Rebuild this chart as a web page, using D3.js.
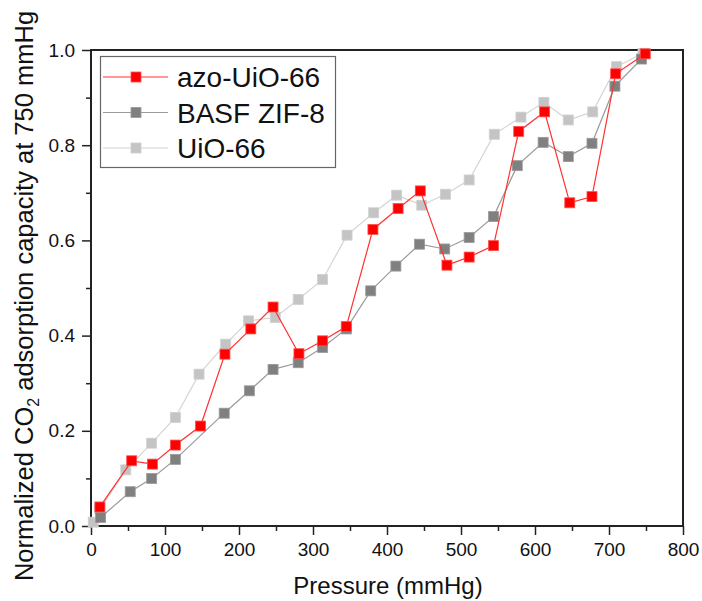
<!DOCTYPE html>
<html>
<head>
<meta charset="utf-8">
<script src="https://cdn.jsdelivr.net/npm/d3@7"></script>
<style>
  body { margin: 0; background: #fff; }
  svg text { font-family: Arial, "Liberation Sans", sans-serif; fill: #111; }
</style>
</head>
<body>
<div id="chart"></div>
<script>
//Series data (pressure in mmHg, normalized uptake)
const seriesNames = ["azo-UiO-66", "BASF ZIF-8", "UiO-66"];

const azoX = [12, 55, 83, 114, 148, 181, 216, 246, 281, 313, 345, 381, 415, 445, 481, 511, 544, 578, 613, 647, 677, 709, 749];
const azoY = [0.040, 0.137, 0.130, 0.170, 0.210, 0.361, 0.414, 0.460, 0.362, 0.389, 0.419, 0.623, 0.667, 0.704, 0.548, 0.565, 0.589, 0.829, 0.870, 0.679, 0.692, 0.950, 0.992];

const zifX = [13, 53, 82, 114, 180, 214, 246, 280, 313, 345, 378, 412, 444, 478, 511, 544, 576, 611, 645, 677, 708, 744];
const zifY = [0.018, 0.072, 0.100, 0.140, 0.237, 0.284, 0.329, 0.343, 0.375, 0.414, 0.494, 0.546, 0.592, 0.582, 0.606, 0.650, 0.757, 0.806, 0.776, 0.804, 0.924, 0.981];

const uioX = [3, 12, 47, 82, 114, 146, 182, 213, 249, 280, 313, 346, 382, 413, 447, 479, 511, 545, 581, 612, 645, 678, 710, 746];
const uioY = [0.008, 0.035, 0.118, 0.174, 0.228, 0.319, 0.382, 0.431, 0.438, 0.476, 0.518, 0.611, 0.658, 0.695, 0.674, 0.697, 0.727, 0.823, 0.859, 0.890, 0.853, 0.870, 0.965, 0.993];

const xTicks = [0, 100, 200, 300, 400, 500, 600, 700, 800];
const xMinor = [50, 150, 250, 350, 450, 550, 650, 750];
const yTicks = [0.0, 0.2, 0.4, 0.6, 0.8, 1.0];
const yMinor = [0.1, 0.3, 0.5, 0.7, 0.9];

const W = 702, H = 601;
const m = {left: 91, right: 683, top: 50, bottom: 526};

const svg = d3.select("#chart").append("svg")
    .attr("width", W)
    .attr("height", H);

const x = d3.scaleLinear().domain([0, 800]).range([m.left, m.right]);
const y = d3.scaleLinear().domain([0, 1]).range([m.bottom, m.top]);

//Style per series (marker fill, marker edge, line colour)
const styles = [
    {fill: "#ff0000", edge: "#ff5050", line: "#ff3030"},
    {fill: "#808080", edge: "#9a9a9a", line: "#9a9a9a"},
    {fill: "#c4c4c4", edge: "#d0d0d0", line: "#d4d4d4"}
];

const series = [
    {name: seriesNames[0], pts: azoX.map((v, i) => [v, azoY[i]]), s: styles[0]},
    {name: seriesNames[1], pts: zifX.map((v, i) => [v, zifY[i]]), s: styles[1]},
    {name: seriesNames[2], pts: uioX.map((v, i) => [v, uioY[i]]), s: styles[2]}
];

//Axes: minor ticks first, then major ticks with labels
function styleAxis(g) {
    g.select(".domain").remove();
    g.selectAll("line").attr("stroke", "#222").attr("stroke-width", 1.5);
    g.selectAll("text").attr("font-size", "19px").attr("fill", "#111");
}

svg.append("g")
    .attr("transform", "translate(0," + m.bottom + ")")
    .call(d3.axisBottom(x).tickValues(xMinor).tickSize(5).tickFormat(""))
    .call(styleAxis);

svg.append("g")
    .attr("transform", "translate(0," + m.bottom + ")")
    .call(d3.axisBottom(x).tickValues(xTicks).tickSize(9).tickPadding(8).tickFormat(d3.format("d")))
    .call(styleAxis);

svg.append("g")
    .attr("transform", "translate(" + m.left + ",0)")
    .call(d3.axisLeft(y).tickValues(yMinor).tickSize(5).tickFormat(""))
    .call(styleAxis);

svg.append("g")
    .attr("transform", "translate(" + m.left + ",0)")
    .call(d3.axisLeft(y).tickValues(yTicks).tickSize(9).tickPadding(7).tickFormat(d3.format(".1f")))
    .call(styleAxis);

//Plot frame
svg.append("rect")
    .attr("x", m.left)
    .attr("y", m.top)
    .attr("width", m.right - m.left)
    .attr("height", m.bottom - m.top)
    .attr("fill", "none")
    .attr("stroke", "#222")
    .attr("stroke-width", 2);

const line = d3.line()
    .x(d => x(d[0]))
    .y(d => y(d[1]));

const ms = 10; //marker size

//Draw lighter series first so red sits on top
series.slice().reverse().forEach(sr => {
    svg.append("path")
	.datum(sr.pts)
	.attr("fill", "none")
	.attr("stroke", sr.s.line)
	.attr("stroke-width", 1.2)
	.attr("d", line);

    svg.append("g").selectAll("rect")
	.data(sr.pts)
	.enter().append("rect")
	.attr("x", d => x(d[0]) - ms / 2)
	.attr("y", d => y(d[1]) - ms / 2)
	.attr("width", ms)
	.attr("height", ms)
	.attr("fill", sr.s.fill)
	.attr("stroke", sr.s.edge)
	.attr("stroke-width", 0.8);
});

//Legend
const legend = svg.append("g");
legend.append("rect")
    .attr("x", 100.5)
    .attr("y", 56.5)
    .attr("width", 235)
    .attr("height", 111)
    .attr("fill", "#fff")
    .attr("stroke", "#666")
    .attr("stroke-width", 1.2);

series.forEach((sr, i) => {
    let ly = 77 + i * 35.5;
    legend.append("line")
	.attr("x1", 103).attr("x2", 168)
	.attr("y1", ly).attr("y2", ly)
	.attr("stroke", sr.s.line)
	.attr("stroke-width", 1.2);
    legend.append("rect")
	.attr("x", 136 - ms / 2)
	.attr("y", ly - ms / 2)
	.attr("width", ms)
	.attr("height", ms)
	.attr("fill", sr.s.fill)
	.attr("stroke", sr.s.edge)
	.attr("stroke-width", 0.8);
    legend.append("text")
	.attr("x", 177)
	.attr("y", ly + 10)
	.attr("font-size", "28px")
	.text(sr.name);
});

//Axis titles
svg.append("text")
    .attr("x", (m.left + m.right) / 2 + 1)
    .attr("y", 594)
    .attr("text-anchor", "middle")
    .attr("font-size", "24px")
    .text("Pressure (mmHg)");

const yTitle = svg.append("text")
    .attr("transform", "translate(33,296) rotate(-90)")
    .attr("text-anchor", "middle")
    .attr("font-size", "25.5px");
yTitle.append("tspan").text("Normalized CO");
yTitle.append("tspan").attr("font-size", "16px").attr("dy", 6).text("2");
yTitle.append("tspan").attr("dy", -6).text(" adsorption capacity at 750 mmHg");
</script>
</body>
</html>
